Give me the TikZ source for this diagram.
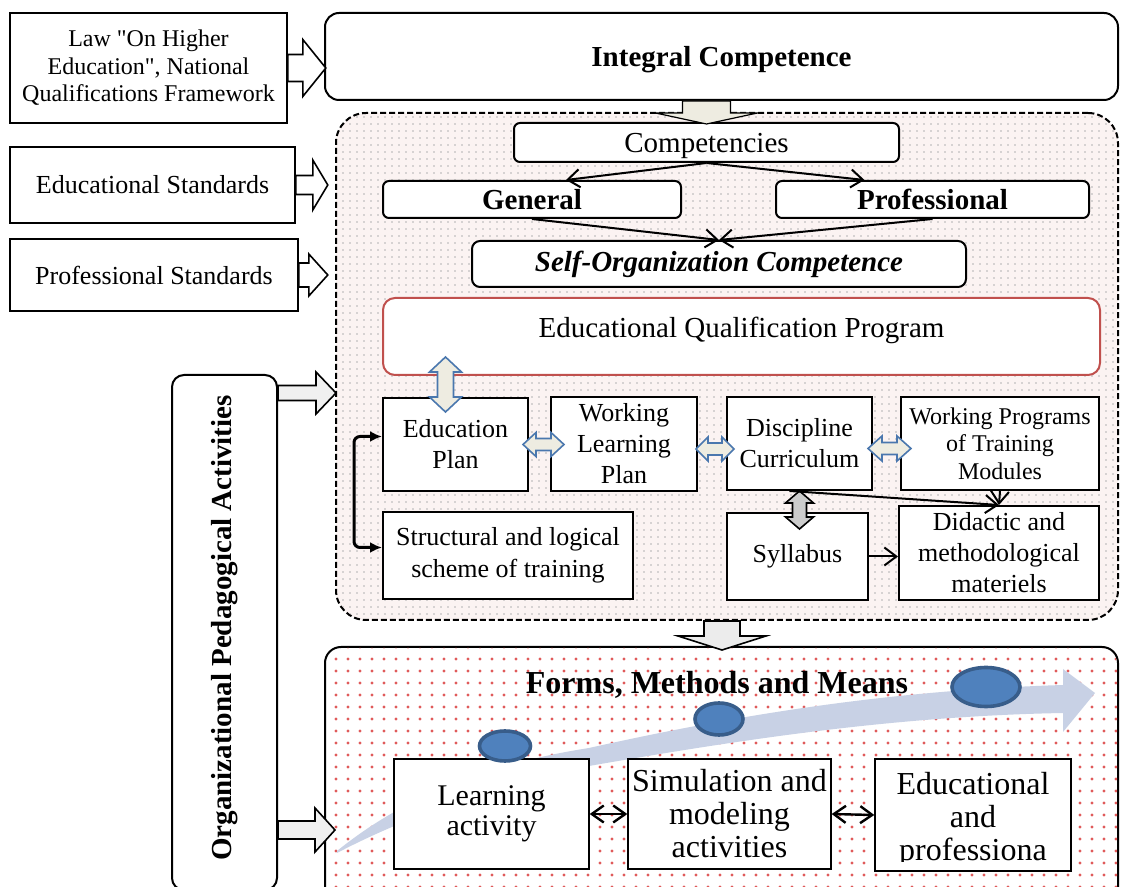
\documentclass[tikz,border=0pt]{standalone}
\usepackage{fontspec}
\setmainfont{Liberation Serif}
\usetikzlibrary{arrows.meta,shapes.geometric,patterns.meta,calc}

\definecolor{beige}{HTML}{EEECE1}
\definecolor{arrowedge}{HTML}{4A77AE}
\definecolor{blobfill}{HTML}{4F81BD}
\definecolor{blobedge}{HTML}{385D8A}
\definecolor{eqpred}{HTML}{C0504D}
\definecolor{bandblue}{HTML}{C8D1E5}
\definecolor{planpink}{HTML}{FBF3F2}
\definecolor{dotred}{HTML}{E05A5A}

\begin{document}
\begin{tikzpicture}[x=0.5pt,y=-0.5pt,
leftbox/.style={draw,rectangle,fill=white,line width=0.8pt,align=center,inner sep=2pt,font=\fontsize{13}{15.5}\selectfont},
capbox/.style={draw,rectangle,rounded corners=3pt,fill=white,line width=1pt,inner sep=2pt,font=\fontsize{14.5}{17}\selectfont},
planbox/.style={draw,rectangle,fill=white,line width=1pt,align=center,inner sep=1pt,font=\fontsize{13}{15.5}\selectfont},
actbox/.style={draw,rectangle,fill=white,line width=0.7pt,align=center,inner sep=1pt,font=\fontsize{16}{16.5}\selectfont},
planarea/.style={draw,rectangle,rounded corners=15pt,dash pattern=on 3pt off 1.5pt,line width=1pt,fill=planpink},
meansarea/.style={draw,rectangle,rounded corners=8pt,line width=1pt,fill=white},
blob/.style={ellipse,draw=blobedge,fill=blobfill,line width=1.8pt,inner sep=0pt},
link/.style={line width=1pt,-{Straight Barb[length=6pt,width=9pt]}},
twolink/.style={line width=1.2pt,{Straight Barb[length=6pt,width=8.5pt]}-{Straight Barb[length=6pt,width=8.5pt]}},
bracket/.style={line width=1.5pt,rounded corners=3pt,{Latex[length=6pt,width=5.5pt]}-{Latex[length=6pt,width=5.5pt]}},
pics/onearrow/.style n args={4}{code={%
  \path[pic actions] (0,-#2) -- ({#1-#4},-#2) -- ({#1-#4},-#3) -- (#1,0) -- ({#1-#4},#3) -- ({#1-#4},#2) -- (0,#2) -- cycle;}},
pics/twoarrow/.style n args={4}{code={%
  \path[pic actions] (0,0) -- (#4,-#3) -- (#4,-#2) -- ({#1-#4},-#2) -- ({#1-#4},-#3) -- (#1,0) -- ({#1-#4},#3) -- ({#1-#4},#2) -- (#4,#2) -- (#4,#3) -- cycle;}}]

\useasboundingbox (0,0) rectangle (1121,887);

% the two areas
\draw (727,366.5) node[planarea,minimum width=391pt,minimum height=253.5pt] (plan) {};
\fill[pattern={Dots[distance=3.5pt,radius=0.45pt]},pattern color=gray!60,rounded corners=15pt] ([shift={(1pt,1pt)}]plan.south west) rectangle ([shift={(-1pt,-1pt)}]plan.north east);
\draw (721.5,776) node[meansarea,minimum width=396.5pt,minimum height=129pt] (means) {};
\fill[pattern={Dots[distance=6pt,radius=0.8pt]},pattern color=dotred,rounded corners=8pt] ([shift={(1pt,1pt)}]means.south west) rectangle ([shift={(-1pt,-1pt)}]means.north east);

% growth band
\fill[bandblue] (337,851) .. controls (400,800) and (480,765) .. (589,748) .. controls (750,712) and (900,690) .. (1063,685) -- (1063,669) -- (1095,693) -- (1063,732) -- (1063,713) .. controls (900,716) and (750,738) .. (589,766) .. controls (480,790) and (400,820) .. (337,853) -- cycle;

% sources
\draw (148.5,68) node[leftbox,minimum width=138.5pt,minimum height=55pt,font=\fontsize{12}{13.75}\selectfont] (law) {Law \textquotedbl On Higher\\Education\textquotedbl, National\\Qualifications Framework};
\draw (152.5,185) node[leftbox,minimum width=142.5pt,minimum height=38pt] (edustd) {Educational Standards};
\draw (154,275) node[leftbox,minimum width=144pt,minimum height=36pt] (profstd) {Professional Standards};
\draw (224.5,632.5) node[draw,rectangle,rounded corners=6pt,fill=white,line width=1pt,minimum width=52.5pt,minimum height=257.5pt] (org) {};
\draw (224.5,628) node[rotate=90,font=\fontsize{14.5}{17}\selectfont\bfseries] (orgtext) {Organizational Pedagogical Activities};

% competences
\draw (721.5,56.5) node[capbox,rounded corners=7pt,minimum width=396.5pt,minimum height=43.5pt,text depth=0pt,font=\fontsize{14.5}{17}\selectfont\bfseries] (integral) {Integral Competence};
\draw (706.5,142.5) node[capbox,minimum width=192.5pt,minimum height=19.5pt,text depth=0pt] (compet) {Competencies};
\draw (532,199.5) node[capbox,minimum width=149pt,minimum height=18.5pt,font=\fontsize{14.5}{17}\selectfont\bfseries] (general) {General};
\draw (932.5,199.5) node[capbox,minimum width=156.5pt,minimum height=18.5pt,font=\fontsize{14.5}{17}\selectfont\bfseries] (profcomp) {Professional};
\draw (719,264) node[capbox,rounded corners=4pt,minimum width=247pt,minimum height=23pt,font=\fontsize{14.5}{17}\selectfont\bfseries\itshape] (selforg) {Self-Organization Competence};
\draw (741.5,336.5) node[capbox,draw=eqpred,rounded corners=6pt,minimum width=358.5pt,minimum height=38.5pt,text depth=9pt] (eqp) {Educational Qualification Program};

% documents
\draw (455.5,444.5) node[planbox,minimum width=72.5pt,minimum height=46.5pt] (edplan) {Education\\Plan};
\draw (624,444) node[planbox,minimum width=73pt,minimum height=47pt] (wlp) {Working\\Learning\\Plan};
\draw (799.5,443.5) node[planbox,minimum width=72.5pt,minimum height=46.5pt] (disc) {Discipline\\Curriculum};
\draw (1000,443.5) node[planbox,minimum width=99pt,minimum height=46.5pt,font=\fontsize{12}{13.75}\selectfont] (wpm) {Working Programs\\of Training\\Modules};
\draw (508,555.5) node[planbox,minimum width=125pt,minimum height=43.5pt,font=\fontsize{13}{16}\selectfont] (struct) {Structural and logical\\scheme of training};
\draw (797.5,556.5) node[planbox,minimum width=70.5pt,minimum height=43.5pt] (syll) {Syllabus};
\draw (999,553) node[planbox,minimum width=100pt,minimum height=47pt] (didac) {Didactic and\\methodological\\materiels};

% forms, methods and means
\draw (717,685) node[font=\fontsize{16}{19}\selectfont\bfseries] (forms) {Forms, Methods and Means};
\draw (491.5,814) node[actbox,minimum width=97.5pt,minimum height=55pt,font=\fontsize{15}{15}\selectfont] (learn) {Learning\\activity};
\draw (729.5,814) node[actbox,minimum width=101.5pt,minimum height=55pt] (simul) {Simulation and\\modeling\\activities};
\draw (973,815) node[actbox,minimum width=98pt,minimum height=56pt] (eduprof) {};
\begin{scope}
\clip (eduprof.north west) rectangle ([yshift=5pt]eduprof.south east);
\draw (973,820) node[align=center,font=\fontsize{16}{16.5}\selectfont] (eduproftext) {Educational\\and\\professiona};
\end{scope}
\draw (505,746) node[blob,minimum width=25.5pt,minimum height=15pt] (dot1) {};
\draw (719,719) node[blob,minimum width=24pt,minimum height=16pt] (dot2) {};
\draw (986,687) node[blob,minimum width=34pt,minimum height=19.5pt] (dot3) {};

% block arrows
\pic[draw,fill=white,line width=0.8pt] at (law.east) {onearrow={38}{13.5}{28.5}{23}};
\pic[draw,fill=white,line width=0.8pt] at (edustd.east) {onearrow={32}{9.5}{25}{15}};
\pic[draw,fill=white,line width=0.8pt] at (profstd.east) {onearrow={29}{12}{21}{19}};
\pic[draw,fill=gray!12,line width=0.8pt] at ($(org.north east)+(0,19)$) {onearrow={58}{7.5}{21}{20}};
\pic[draw,fill=gray!12,line width=0.8pt] at ($(org.north east)+(0,456)$) {onearrow={57}{9}{22}{20}};
\pic[draw,fill=beige,line width=0.6pt,rotate=-90] at (compet.north |- integral.south) {onearrow={23}{24}{51}{11}};
\pic[draw,fill=gray!15,line width=0.8pt,rotate=-90] at ([xshift=-2.5pt]plan.south) {onearrow={29}{18}{44}{14}};
\pic[draw=arrowedge,fill=beige,line width=0.8pt,rotate=-90] at ($(edplan.north)+(-10,-40)$) {twoarrow={55}{8}{16}{15}};
\pic[draw=arrowedge,fill=beige,line width=0.8pt] at ($(edplan.east)+(-6,0)$) {twoarrow={41}{6}{12}{13}};
\pic[draw=arrowedge,fill=beige,line width=0.8pt] at ($(wlp.east)+(-2,5)$) {twoarrow={38}{6}{12}{12}};
\pic[draw=arrowedge,fill=beige,line width=0.8pt] at ($(disc.east)+(-5,5)$) {twoarrow={43}{6}{12.5}{14}};
\pic[draw,fill=gray!40,line width=0.8pt,rotate=-90] at (disc.south) {twoarrow={38}{7}{14}{12}};

% links
\draw[link] (compet.south) -- ([xshift=17pt]general.north);
\draw[link] (compet.south) -- ([xshift=-34pt]profcomp.north);
\draw[link] (general.south) -- (selforg.north);
\draw[link] (profcomp.south) -- (selforg.north);
\draw[link] ([xshift=-5pt]disc.south) -- (didac.north);
\draw[link] (wpm.south) -- (didac.north);
\draw[link] (syll.east) -- (syll.east -| didac.west);
\draw[bracket] ([yshift=4pt]edplan.west) -- ++(-28,0) |- ([yshift=4pt]struct.west);
\draw[twolink] (learn.east) -- (simul.west);
\draw[twolink] (simul.east) -- (eduprof.west);
\end{tikzpicture}
\end{document}
